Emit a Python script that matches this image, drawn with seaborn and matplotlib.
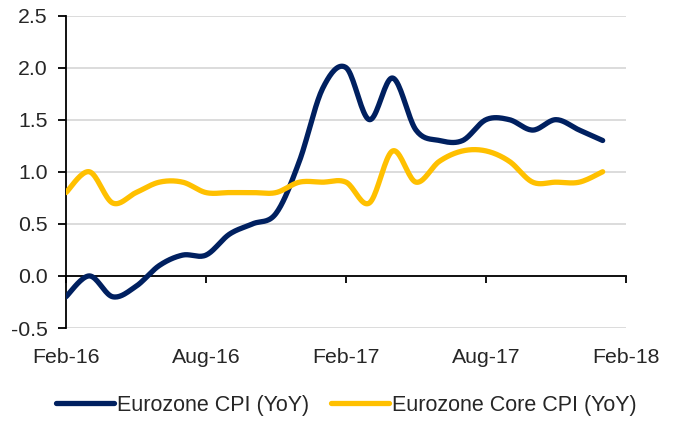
import numpy as np
import pandas as pd
import matplotlib
matplotlib.use("Agg")
import matplotlib.pyplot as plt
import seaborn as sns

months = ["Feb-16", "Mar-16", "Apr-16", "May-16", "Jun-16", "Jul-16", "Aug-16", "Sep-16",
          "Oct-16", "Nov-16", "Dec-16", "Jan-17", "Feb-17", "Mar-17", "Apr-17", "May-17",
          "Jun-17", "Jul-17", "Aug-17", "Sep-17", "Oct-17", "Nov-17", "Dec-17", "Jan-18"]
cpi = [-0.2, 0.0, -0.2, -0.1, 0.1, 0.2, 0.2, 0.4, 0.5, 0.6, 1.1, 1.8,
       2.0, 1.5, 1.9, 1.4, 1.3, 1.3, 1.5, 1.5, 1.4, 1.5, 1.4, 1.3]
core = [0.8, 1.0, 0.7, 0.8, 0.9, 0.9, 0.8, 0.8, 0.8, 0.8, 0.9, 0.9,
        0.9, 0.7, 1.2, 0.9, 1.1, 1.2, 1.2, 1.1, 0.9, 0.9, 0.9, 1.0]
tick_labels = ["Feb-16", "Aug-16", "Feb-17", "Aug-17", "Feb-18"]
series_names = ["Eurozone CPI (YoY)", "Eurozone Core CPI (YoY)"]
colors = ["#002060", "#FFC000"]


def smooth(y, n=20):
    # Excel-style smoothed line: cubic Bezier with Catmull-Rom control points
    y = np.asarray(y, float)
    x = np.arange(len(y), dtype=float)
    xs, ys = [], []
    for i in range(len(y) - 1):
        p0 = (x[max(i - 1, 0)], y[max(i - 1, 0)])
        p1 = (x[i], y[i])
        p2 = (x[i + 1], y[i + 1])
        p3 = (x[min(i + 2, len(y) - 1)], y[min(i + 2, len(y) - 1)])
        c1 = (p1[0] + (p2[0] - p0[0]) / 6, p1[1] + (p2[1] - p0[1]) / 6)
        c2 = (p2[0] - (p3[0] - p1[0]) / 6, p2[1] - (p3[1] - p1[1]) / 6)
        t = np.linspace(0, 1, n, endpoint=(i == len(y) - 2))
        b = [(1 - t) ** 3, 3 * (1 - t) ** 2 * t, 3 * (1 - t) * t ** 2, t ** 3]
        xs.append(b[0] * p1[0] + b[1] * c1[0] + b[2] * c2[0] + b[3] * p2[0])
        ys.append(b[0] * p1[1] + b[1] * c1[1] + b[2] * c2[1] + b[3] * p2[1])
    return np.concatenate(xs), np.concatenate(ys)


frames = []
for name, vals in zip(series_names, [cpi, core]):
    sx, sy = smooth(vals)
    frames.append(pd.DataFrame({"x": sx, "y": sy, "series": name}))
df = pd.concat(frames, ignore_index=True)

sns.set_style("white")
plt.rcParams["font.family"] = ["Liberation Sans", "DejaVu Sans"]

fig = plt.figure(figsize=(6.75, 4.21), dpi=100)
ax = fig.add_axes([66 / 675, 1 - 328 / 421, 560 / 675, 312.5 / 421])

sns.lineplot(data=df, x="x", y="y", hue="series", palette=colors, sort=False,
             estimator=None, linewidth=3.8, ax=ax, legend=True)
for ln in ax.lines:
    ln.set_solid_capstyle("round")
    ln.set_solid_joinstyle("round")
    ln.set_zorder(3)

ax.set_xlim(0, 24)
ax.set_ylim(-0.5, 2.5)
ax.set_yticks(np.arange(-0.5, 2.51, 0.5))
ax.set_yticklabels([f"{v:.1f}" for v in np.arange(-0.5, 2.51, 0.5)])
ax.set_xticks(np.arange(0, 25, 6))
ax.set_xticklabels(tick_labels)
ax.set_xlabel("")
ax.set_ylabel("")

ax.yaxis.grid(True, color="#d9d9d9", linewidth=1.3, zorder=0)
ax.set_axisbelow(True)
for s in ["top", "right"]:
    ax.spines[s].set_visible(False)
ax.spines["left"].set_color("black")
ax.spines["left"].set_linewidth(1.3)
ax.spines["bottom"].set_position(("data", 0))
ax.spines["bottom"].set_color("black")
ax.spines["bottom"].set_linewidth(1.3)
ax.spines["bottom"].set_zorder(2)

ax.tick_params(axis="y", which="both", left=True, direction="out", length=6,
               width=1.3, color="black", labelsize=15.3, pad=7)
ax.tick_params(axis="x", which="both", bottom=True, direction="out", length=5,
               width=1.3, color="black", labelsize=15.3, pad=47)

handles, labels = ax.get_legend_handles_labels()
ax.legend(handles, labels, loc="center", bbox_to_anchor=(346 / 675, 1 - 405 / 421),
          bbox_transform=fig.transFigure, ncol=2, frameon=False, fontsize=15.5,
          handlelength=2.7, handletextpad=0.15, columnspacing=1.0)

fig.savefig("out.png", dpi=100)
